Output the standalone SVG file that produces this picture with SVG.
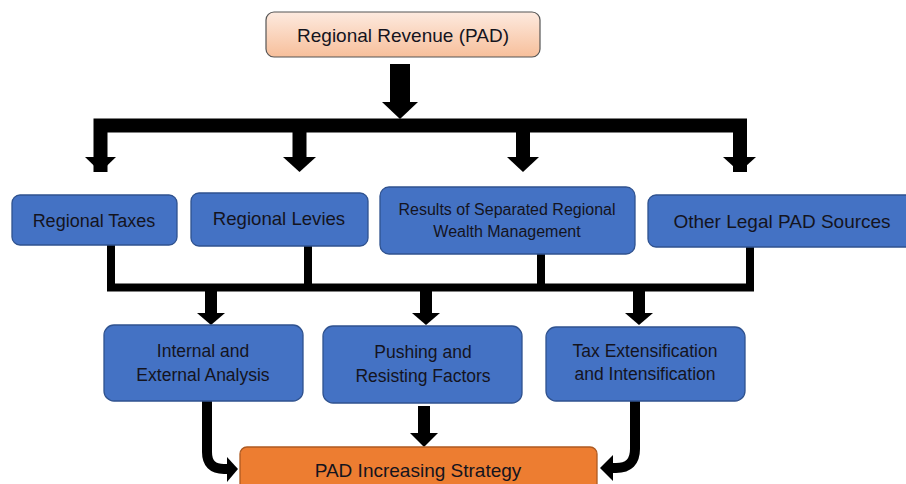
<svg xmlns="http://www.w3.org/2000/svg" width="906" height="484" viewBox="0 0 906 484">
  <defs>
    <linearGradient id="peach" x1="0" y1="0" x2="0" y2="1">
      <stop offset="0" stop-color="#fdeadf"/>
      <stop offset="1" stop-color="#f7bf9b"/>
    </linearGradient>
    <style>
      .lbl { font-family: "Liberation Sans", Arial, sans-serif; fill: #14141e; text-anchor: middle; }
      .blue { fill: #4472c4; stroke: #2f528f; stroke-width: 1.3; }
      .bar { fill: none; stroke: #000; stroke-linejoin: miter; }
      .head { fill: #000; }
    </style>
  </defs>
  <rect width="906" height="484" fill="#fff"/>

  <!-- connectors -->
  <g id="connectors">
    <!-- source to the four revenue types -->
    <rect x="390" y="64" width="20" height="40" class="head"/>
    <polygon points="382,102 418,102 400,119" class="head"/>
    <path d="M100.5 172 V125.5 H740 V172" class="bar" stroke-width="14"/>
    <path d="M299.5 125 V160 M523 125 V160" class="bar" stroke-width="14"/>
    <polygon points="85,157 116,157 100.5,172" class="head"/>
    <polygon points="283,157 316,157 299.5,172" class="head"/>
    <polygon points="507,157 539,157 523,172" class="head"/>
    <polygon points="723,157 756,157 739.5,172" class="head"/>

    <!-- revenue types joined into one bus -->
    <path d="M111 245 V287.5 H750 V247" class="bar" stroke-width="8"/>
    <path d="M308 246 V287 M541 254 V287" class="bar" stroke-width="8"/>

    <!-- bus to the three analysis steps -->
    <rect x="205" y="290" width="12" height="24" class="head"/>
    <polygon points="197,313 225,313 211,325" class="head"/>
    <rect x="420" y="290" width="12" height="24" class="head"/>
    <polygon points="412,313 440,313 426,325" class="head"/>
    <rect x="633" y="290" width="12" height="24" class="head"/>
    <polygon points="625,313 653,313 639,325" class="head"/>

    <!-- analysis steps to the strategy -->
    <rect x="418" y="406" width="12" height="28" class="head"/>
    <polygon points="410,433 438,433 424,447" class="head"/>
    <path d="M207 401 V452 Q207 469 224 469 H229" class="bar" stroke-width="10"/>
    <polygon points="227,457 238,469 227,482" class="head"/>
    <path d="M635 401 V449 Q635 468 616 468 H611" class="bar" stroke-width="10"/>
    <polygon points="613,455 600,468 613,481" class="head"/>
  </g>

  <g id="regional-revenue">
    <rect x="266" y="12" width="274" height="45" rx="8" fill="url(#peach)" stroke="#555" stroke-width="1.2"/>
    <text x="403" y="42" class="lbl" font-size="19">Regional Revenue (PAD)</text>
  </g>

  <g id="regional-taxes">
    <rect x="12" y="195" width="165" height="50" rx="8" class="blue"/>
    <text x="94" y="227" class="lbl" font-size="18">Regional Taxes</text>
  </g>

  <g id="regional-levies">
    <rect x="191" y="193" width="177" height="53" rx="8" class="blue"/>
    <text x="279" y="225" class="lbl" font-size="18.6">Regional Levies</text>
  </g>

  <g id="separated-wealth">
    <rect x="380" y="187" width="255" height="67" rx="9" class="blue"/>
    <text x="507" y="215" class="lbl" font-size="16">Results of Separated Regional</text>
    <text x="507" y="237" class="lbl" font-size="16">Wealth Management</text>
  </g>

  <g id="other-sources">
    <rect x="648" y="195" width="270" height="52" rx="8" class="blue"/>
    <text x="782" y="228" class="lbl" font-size="19">Other Legal PAD Sources</text>
  </g>

  <g id="internal-external">
    <rect x="104" y="325" width="199" height="76" rx="10" class="blue"/>
    <text x="203" y="357" class="lbl" font-size="17.5">Internal and</text>
    <text x="203" y="381" class="lbl" font-size="17.5">External Analysis</text>
  </g>

  <g id="pushing-resisting">
    <rect x="323" y="326" width="199" height="77" rx="10" class="blue"/>
    <text x="423" y="358" class="lbl" font-size="17.5">Pushing and</text>
    <text x="423" y="382" class="lbl" font-size="17.5">Resisting Factors</text>
  </g>

  <g id="tax-extensification">
    <rect x="546" y="327" width="199" height="74" rx="10" class="blue"/>
    <text x="645" y="357" class="lbl" font-size="17.5">Tax Extensification</text>
    <text x="645" y="380" class="lbl" font-size="17.5">and Intensification</text>
  </g>

  <g id="strategy">
    <rect x="240" y="447" width="357" height="50" rx="7" fill="#ed7d31" stroke="#ae5a21" stroke-width="1.3"/>
    <text x="418" y="477" class="lbl" font-size="19">PAD Increasing Strategy</text>
  </g>
</svg>
